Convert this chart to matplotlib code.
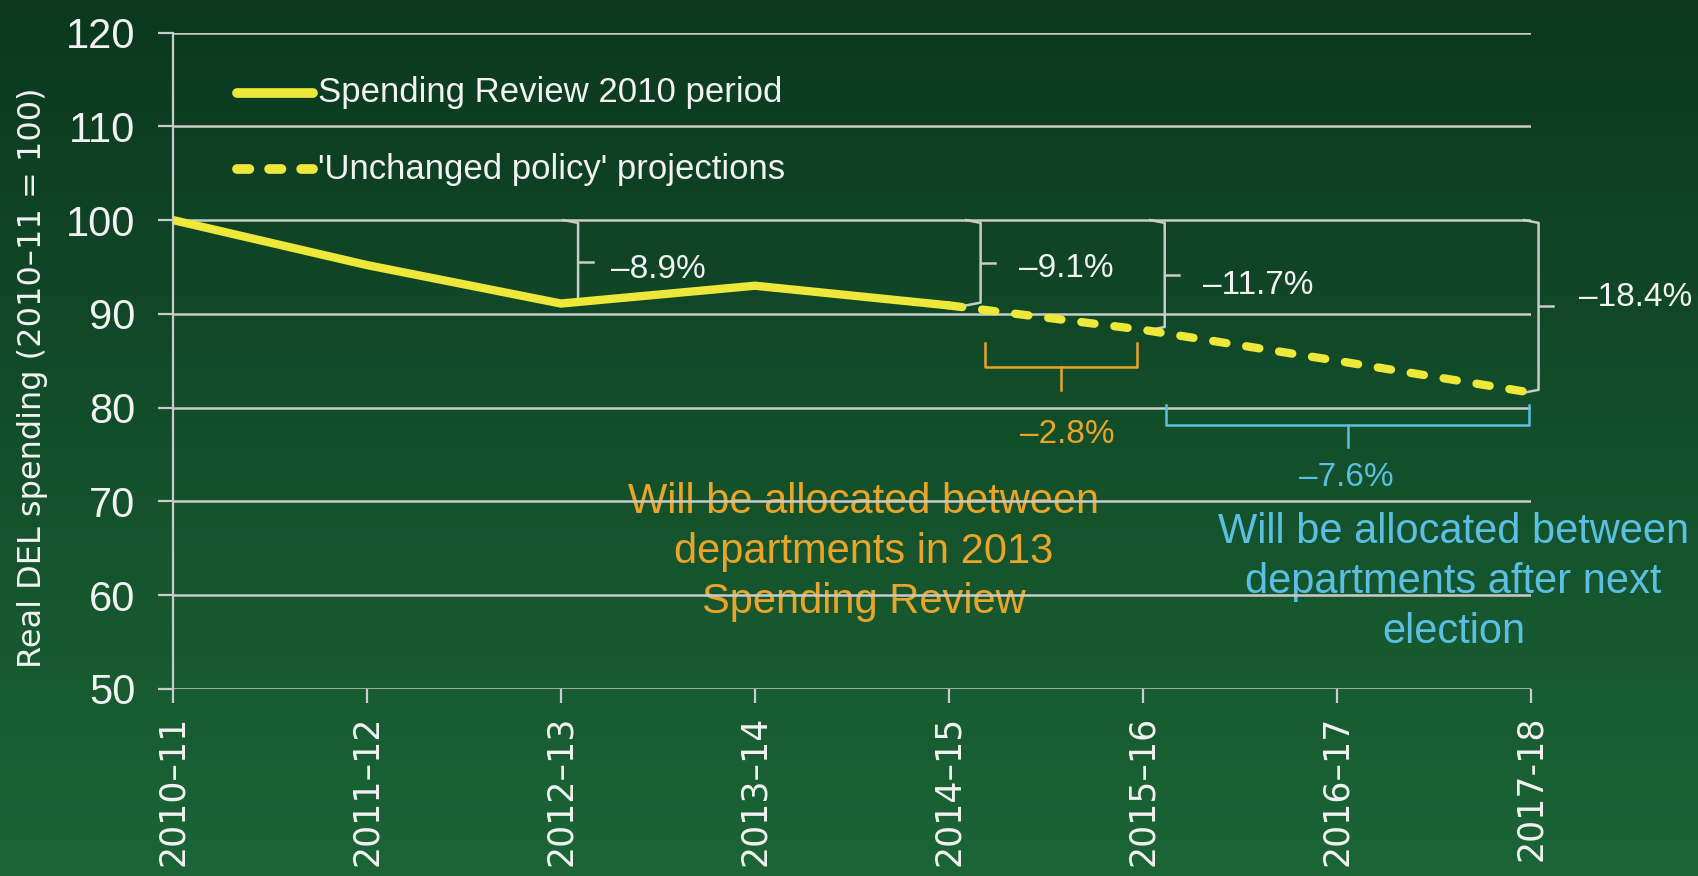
import numpy as np
import matplotlib
matplotlib.use("Agg")
import matplotlib.pyplot as plt
from matplotlib.lines import Line2D

# ---- data ----
years = ["2010–11", "2011–12", "2012–13", "2013–14", "2014–15", "2015–16", "2016–17", "2017-18"]
sr2010_values = [100.0, 95.2, 91.1, 93.0, 90.9]          # 2010-11 .. 2014-15
projection_values = [90.9, 88.3, 85.0, 81.6]             # 2014-15 .. 2017-18
yticks = [50, 60, 70, 80, 90, 100, 110, 120]

cut_labels = ["–8.9%", "–9.1%", "–11.7%", "–18.4%"]
cut_bottoms = [91.1, 90.9, 88.3, 81.6]

legend_labels = ["Spending Review 2010 period", "'Unchanged policy' projections"]
orange_text = "Will be allocated between\ndepartments in 2013\nSpending Review"
blue_text = "Will be allocated between\ndepartments after next\nelection"
orange_label = "–2.8%"
blue_label = "–7.6%"
ylabel = "Real DEL spending (2010–11 = 100)"

# ---- style ----
YELLOW = "#EEE83A"
ORANGE = "#E9A42A"
BLUE = "#5CBFE2"
WHITE = "#F2F2F2"
GRID = "#C9CCC9"
FONT = "Liberation Sans"

W, H = 1699, 876
fig = plt.figure(figsize=(W / 100, H / 100), dpi=100)

# background gradient
bg = fig.add_axes([0, 0, 1, 1], zorder=-10)
top = np.array([11, 56, 31]) / 255
bot = np.array([27, 101, 54]) / 255
t = np.linspace(0, 1, 256)[:, None]
grad = top[None, :] * (1 - t) + bot[None, :] * t
bg.imshow(grad[:, None, :], aspect="auto", extent=[0, 1, 0, 1])
bg.axis("off")

left, right = 173 / W, 1531 / W
bottom, topf = 1 - 689 / H, 1 - 32.5 / H
ax = fig.add_axes([left, bottom, right - left, topf - bottom])
ax.set_facecolor("none")

x = np.arange(len(years))
ax.plot(x[:len(sr2010_values)], sr2010_values, color=YELLOW, lw=6,
        solid_capstyle="round", solid_joinstyle="round", zorder=5)
ax.plot(x[len(sr2010_values) - 1:], projection_values, color=YELLOW, lw=6,
        dashes=(1.6, 2.4), dash_capstyle="round", zorder=5)

ax.set_xlim(0, 7)
ax.set_ylim(50, 120)
ax.set_xticks(x)
ax.set_xticklabels(years, rotation=90, family="DejaVu Sans", fontsize=25, color=WHITE)
ax.set_yticks(yticks)
ax.set_yticklabels([str(v) for v in yticks], family=FONT, fontsize=30, color=WHITE)
ax.tick_params(axis="y", length=11, width=1.6, color=GRID, pad=16)
ax.tick_params(axis="x", length=10, width=1.6, color=GRID, pad=9)
for s in ["top", "right", "bottom"]:
    ax.spines[s].set_visible(False)
ax.spines["left"].set_color(GRID)
ax.spines["left"].set_linewidth(1.6)
ax.yaxis.grid(True, color=GRID, lw=1.8)
ax.set_axisbelow(False)
fig.text(33 / W, 1 - 378 / H, ylabel, family="DejaVu Sans", fontsize=23, color=WHITE,
         rotation=90, ha="center", va="center")

# white brackets (vertical, from 100 down to value)
br_x = [2.088, 4.163, 5.112, 7.039]
lab_x = [2.26, 4.36, 5.31, 7.25]
lab_y = [94.7, 94.8, 93.0, 91.7]
stub = 0.075
for bx, b, lab, lx, ly in zip(br_x, cut_bottoms, cut_labels, lab_x, lab_y):
    mid = (100 + b) / 2
    ax.plot([bx - stub, bx, bx, bx - stub], [100, 100 - 0.3, b + 0.3, b],
            color=GRID, lw=1.8, zorder=4, solid_joinstyle="round", clip_on=False)
    ax.plot([bx, bx + stub], [mid, mid], color=GRID, lw=1.8, zorder=4, clip_on=False)
    ax.text(lx, ly, lab, family=FONT, fontsize=24, color=WHITE, va="center", ha="left")

# horizontal brackets
def hbracket(x0, x1, yh, yend, ytip, color):
    xm = (x0 + x1) / 2
    ax.plot([x0, x0, x1, x1], [yend, yh, yh, yend], color=color, lw=1.8, zorder=4, clip_on=False)
    ax.plot([xm, xm], [yh, ytip], color=color, lw=1.8, zorder=4)

hbracket(4.186, 4.969, 84.3, 86.9, 81.9, ORANGE)
hbracket(5.12, 6.99, 78.2, 80.3, 75.8, BLUE)
ax.text(4.61, 77.1, orange_label, family=FONT, fontsize=24, color=ORANGE, ha="center", va="center")
ax.text(6.05, 72.6, blue_label, family=FONT, fontsize=24, color=BLUE, ha="center", va="center")

ax.text(3.56, 64.6, orange_text, family=FONT, fontsize=30, color=ORANGE, ha="center",
        va="center", linespacing=1.32, zorder=1)
ax.text(6.6, 61.4, blue_text, family=FONT, fontsize=30, color=BLUE, ha="center",
        va="center", linespacing=1.32, zorder=1, clip_on=False)

# legend
lx0, lx1, tx = 0.047, 0.103, 0.1068
for yy, lab, dashed in [(0.908, legend_labels[0], False), (0.792, legend_labels[1], True)]:
    if dashed:
        ln = Line2D([lx0, lx1], [yy, yy], transform=ax.transAxes, color=YELLOW, lw=7,
                    dashes=(1.27, 2.03), dash_capstyle="round")
    else:
        ln = Line2D([lx0, lx1], [yy, yy], transform=ax.transAxes, color=YELLOW, lw=7,
                    solid_capstyle="round")
    ax.add_line(ln)
    ax.text(tx, yy, lab, transform=ax.transAxes, family=FONT, fontsize=25, color=WHITE,
            va="center", ha="left")

fig.savefig("out.png", dpi=100)
